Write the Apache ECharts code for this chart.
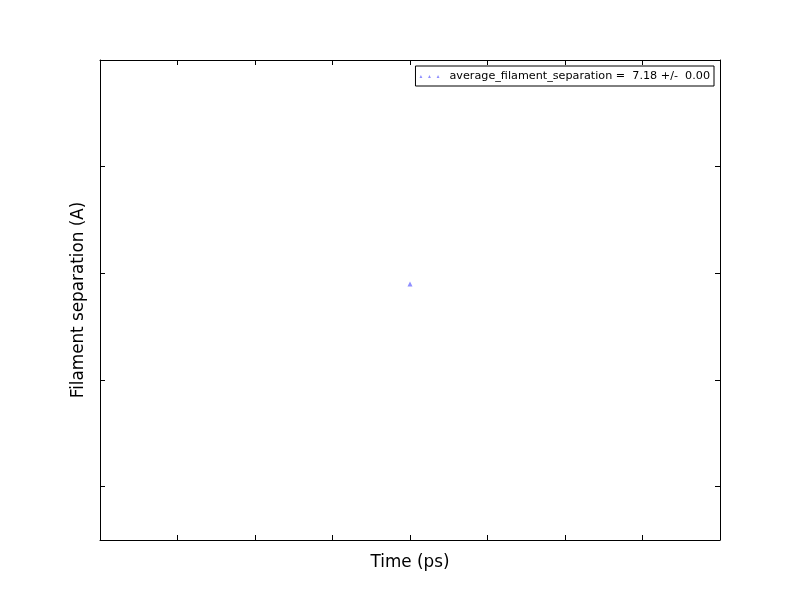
<!DOCTYPE html>
<html>
<head>
<meta charset="utf-8">
<script src="https://cdn.jsdelivr.net/npm/echarts@6/dist/echarts.min.js"></script>
<style>html,body{margin:0;padding:0;background:#fff}#c{width:800px;height:600px}</style>
</head>
<body>
<div id="c"></div>
<script>
const seriesName = 'average_filament_separation =  7.18 +/-  0.00';
const times = [0];
const separations = [7.18];
const yTickValues = [6.8, 7.0, 7.2, 7.4];
const xRange = [-4, 4];
const yRange = [6.7, 7.6];

const chart = echarts.init(document.getElementById('c'), null, {renderer: 'canvas'});
const font = 'DejaVu Sans';
const markColor = 'rgba(40,40,255,0.65)';
const xCommon = {
  type: 'value', min: xRange[0], max: xRange[1], interval: 1,
  axisLine: {show: true, onZero: false, lineStyle: {color: '#000', width: 1}},
  axisTick: {show: true, inside: true, length: 5, lineStyle: {color: '#000'}},
  axisLabel: {show: false}, splitLine: {show: false}
};
const yCommon = {
  type: 'value', min: yRange[0], max: yRange[1],
  axisLine: {show: true, onZero: false, lineStyle: {color: '#000', width: 1}},
  axisTick: {show: true, inside: true, length: 5, customValues: yTickValues, lineStyle: {color: '#000'}},
  axisLabel: {show: false, customValues: yTickValues}, splitLine: {show: false}
};
const tri = 'M0,10 L5,0 L10,10 Z M30,10 L35,0 L40,10 Z M60,10 L65,0 L70,10 Z';
chart.setOption({
  animation: false,
  backgroundColor: '#fff',
  grid: {left: 100, right: 80, top: 60, bottom: 60, containLabel: false},
  legend: {
    right: 86, top: 66, orient: 'vertical',
    padding: [5, 4, 4, 4],
    borderColor: '#000', borderWidth: 1, borderRadius: 0,
    backgroundColor: '#fff',
    itemWidth: 20, itemHeight: 4, itemGap: 0,
    icon: 'path://' + tri,
    textStyle: {fontFamily: font, fontSize: 11.2, color: '#000', padding: [0, 0, 0, 5]},
    data: [{name: seriesName, itemStyle: {color: markColor}}]
  },
  xAxis: [
    Object.assign({}, xCommon, {position: 'bottom', name: 'Time (ps)', nameLocation: 'middle', nameGap: 14,
      nameTextStyle: {fontFamily: font, fontSize: 16.8, color: '#000'}}),
    Object.assign({}, xCommon, {position: 'top'})
  ],
  yAxis: [
    Object.assign({}, yCommon, {position: 'left', name: 'Filament separation (A)', nameLocation: 'middle', nameGap: 13,
      nameTextStyle: {fontFamily: font, fontSize: 16.8, color: '#000'}}),
    Object.assign({}, yCommon, {position: 'right'})
  ],
  series: [{
    name: seriesName, type: 'scatter', xAxisIndex: 0, yAxisIndex: 0,
    symbol: 'triangle', symbolSize: 5,
    itemStyle: {color: markColor},
    data: times.map((t, i) => [t, separations[i]])
  }]
});
</script>
</body>
</html>
